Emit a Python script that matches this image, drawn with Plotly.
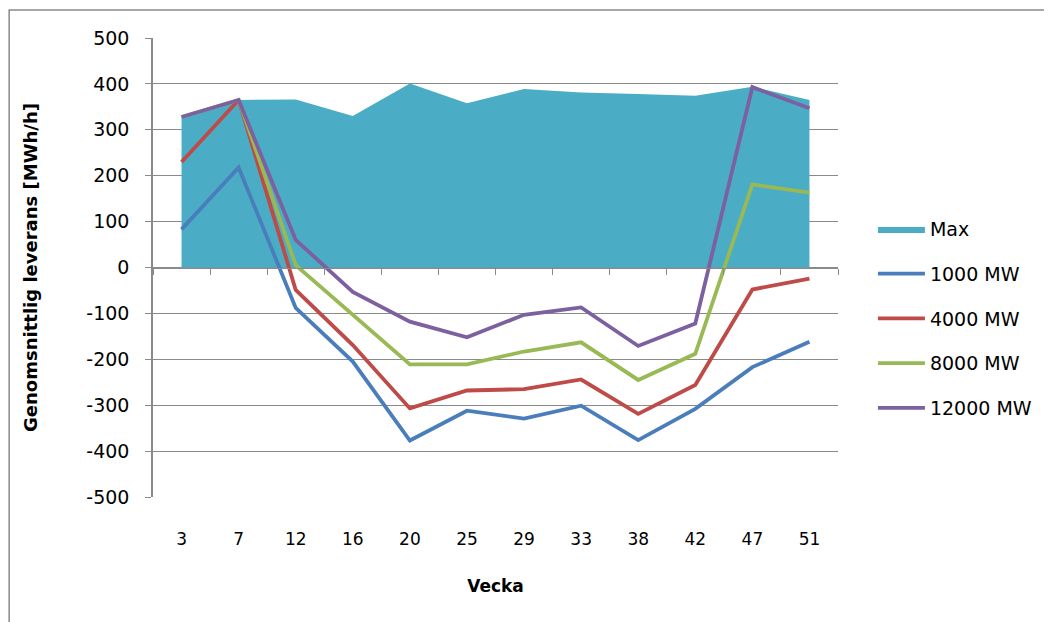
import plotly.graph_objects as go

weeks = ["3", "7", "12", "16", "20", "25", "29", "33", "38", "42", "47", "51"]
max_vals = [328, 365, 366, 330, 401, 358, 389, 381, 378, 374, 394, 365]
mw1000 = [83, 218, -88, -205, -377, -312, -329, -301, -376, -308, -217, -162]
mw4000 = [230, 365, -49, -169, -307, -268, -265, -244, -319, -256, -48, -24]
mw8000 = [328, 365, 5, -103, -211, -211, -183, -163, -245, -188, 181, 163]
mw12000 = [328, 365, 60, -53, -118, -152, -103, -87, -171, -122, 393, 347]
y_ticks = [-500, -400, -300, -200, -100, 0, 100, 200, 300, 400, 500]
y_tick_text = [str(v) for v in y_ticks]

FONT = "DejaVu Sans"
GRID = "#8a8a8a"

fig = go.Figure()
fig.add_trace(go.Scatter(
    x=weeks, y=max_vals, name="Max", mode="lines", fill="tozeroy",
    fillcolor="#4BACC6", line=dict(width=0, color="#4BACC6"),
    legendgroup="a", xaxis="x", yaxis="y"))

series = [("1000 MW", mw1000, "#4A7EBB"), ("4000 MW", mw4000, "#BE4B48"),
          ("8000 MW", mw8000, "#98B954"), ("12000 MW", mw12000, "#7D60A0")]
for i, (nm, vals, col) in enumerate(series):
    fig.add_trace(go.Scatter(
        x=weeks, y=vals, name=nm, mode="lines",
        line=dict(color=col, width=3.8), legendgroup=f"g{i}",
        xaxis="x2", yaxis="y"))

fig.update_layout(
    width=1044, height=614,
    margin=dict(l=145, r=214, t=30, b=125),
    paper_bgcolor="white", plot_bgcolor="white",
    font=dict(family=FONT, size=17, color="#000000"),
    showlegend=True,
    legend=dict(x=1.051, y=0.625, xanchor="left", yanchor="top",
                font=dict(family=FONT, size=19, color="#000"),
                tracegroupgap=17, itemwidth=47, traceorder="grouped"),
    xaxis=dict(type="category", categoryarray=weeks, range=[-0.5, 11.5],
               showgrid=False, showline=False, ticks="", zeroline=False,
               tickfont=dict(family=FONT, size=17),
               ticklabelstandoff=30,
               title=dict(text="<b>Vecka</b>", font=dict(family=FONT, size=17), standoff=32)),
    xaxis2=dict(type="category", categoryarray=weeks, range=[-0.5, 11.5],
                overlaying="x", anchor="free", position=0.5,
                showgrid=False, showline=True, linecolor=GRID, linewidth=1.3,
                ticks="outside", ticklen=6, tickcolor=GRID, tickwidth=1.3,
                tickson="boundaries", showticklabels=False, zeroline=False),
    yaxis=dict(range=[-500, 500], tickvals=y_ticks, ticktext=y_tick_text,
               showgrid=True, gridcolor=GRID, gridwidth=1,
               showline=True, linecolor=GRID, linewidth=1.5,
               ticks="outside", ticklen=6, tickcolor=GRID, tickwidth=1.3,
               zeroline=False, ticklabelstandoff=12,
               tickfont=dict(family=FONT, size=19),
               title=dict(text="<b>Genomsnittlig leverans [MWh/h]</b>",
                          font=dict(family=FONT, size=18), standoff=44)),
    shapes=[dict(type="rect", xref="paper", yref="paper",
                 x0=-0.210, x1=1.4, y0=-0.46, y1=1.061,
                 line=dict(color="#8a8a8a", width=1.5), layer="below")],
)

fig.write_html("out.html")
